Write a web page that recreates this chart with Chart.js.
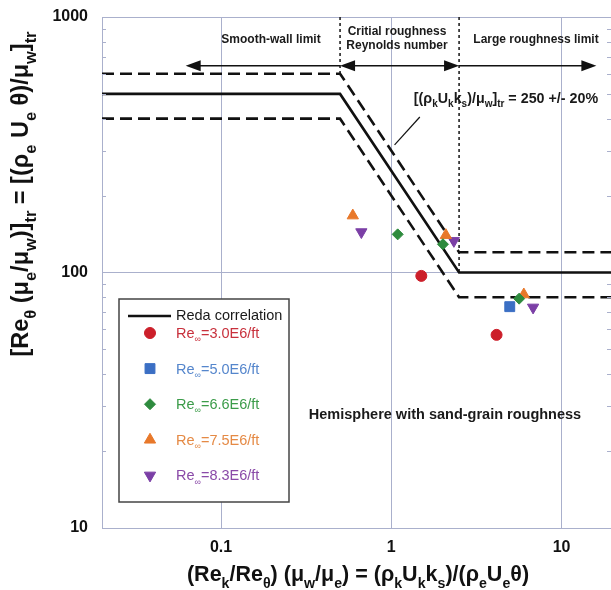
<!DOCTYPE html>
<html>
<head>
<meta charset="utf-8">
<script src="https://cdn.jsdelivr.net/npm/chart.js@4.4.1/dist/chart.umd.min.js"></script>
<style>
  html, body { margin: 0; padding: 0; background: #fff; overflow: hidden; }
  canvas { display: block; }
</style>
</head>
<body>
<canvas id="myChart" width="611" height="590"></canvas>
<script>
const FONT = "'Liberation Sans', Arial, sans-serif";
const GRID = "#aab0cc";

// axes
const xTicks = [0.1, 1, 10];
const yTicks = [10, 100, 1000];
const xRange = [0.02, 19.5];
const yRange = [10, 1000];

// Reda correlation and the +/- 20% band
const redaX = [0.02, 0.5, 2.5, 19.5];
const redaY = [500, 500, 100, 100];
const bandHighY = [600, 600, 120, 120];
const bandLowY = [400, 400, 80, 80];

// regime dividers
const dividerX = [0.5, 2.5];
const dividerBottom = [600, 100];

// measured transition points
const seriesLabels = ["=3.0E6/ft", "=5.0E6/ft", "=6.6E6/ft", "=7.5E6/ft", "=8.3E6/ft"];
const re30X = [1.5, 4.15];
const re30Y = [97, 57];
const re50X = [4.96];
const re50Y = [73.5];
const re66X = [1.09, 2.01, 5.63];
const re66Y = [141, 129, 79];
const re75X = [0.594, 2.09, 6.0];
const re75Y = [167, 140, 82];
const re83X = [0.667, 2.33, 6.8];
const re83Y = [144, 133, 73];

// annotation anchors (data coords)
const arrowLevel = 645;
const arrowSpans = [[0.062, 0.5, "start"], [0.5, 2.5, "both"], [2.5, 16, "end"]];
const leader = [[1.47, 406], [1.045, 316]];

const toXY = (xs, ys) => xs.map((x, i) => ({ x: x, y: ys[i] }));

const markerStyles = [
  { color: "#cc1f2a", text: "#c8303c", style: "circle", radius: 5.5, rotation: 0 },
  { color: "#3b6fc4", text: "#5586cc", style: "rect", radius: 7, rotation: 0 },
  { color: "#2e8b3e", text: "#3c9c4a", style: "rectRot", radius: 5.5, rotation: 0 },
  { color: "#e8782a", text: "#e58a45", style: "triangle", radius: 6.5, rotation: 0 },
  { color: "#7b3fa6", text: "#8a4aa8", style: "triangle", radius: 6.5, rotation: 180 },
];
const seriesData = [
  toXY(re30X, re30Y), toXY(re50X, re50Y), toXY(re66X, re66Y), toXY(re75X, re75Y), toXY(re83X, re83Y)
];

function lineSet(ys, dash) {
  return {
    type: "scatter", data: toXY(redaX, ys), showLine: true, borderColor: "#111",
    borderWidth: 2.6, borderDash: dash, pointRadius: 0, order: 2
  };
}

const datasets = [
  lineSet(redaY, []),
  lineSet(bandHighY, [12, 6]),
  lineSet(bandLowY, [12, 6]),
];
dividerX.forEach((x, i) => {
  datasets.push({
    type: "scatter", data: [{ x: x, y: yRange[1] }, { x: x, y: dividerBottom[i] }], showLine: true,
    borderColor: "#222", borderWidth: 1.6, borderDash: [3, 3], pointRadius: 0, order: 3
  });
});
seriesData.forEach((d, i) => {
  const m = markerStyles[i];
  datasets.push({
    type: "scatter", data: d, pointStyle: m.style, pointRadius: m.radius, pointRotation: m.rotation,
    backgroundColor: m.color, borderColor: m.color, borderWidth: 1, order: 0
  });
});

// text with subscripts: segs = [[text, isSub], ...]
function drawRich(ctx, segs, x, y, size, weight, color, align, subRatio) {
  const subSize = size * (subRatio || 0.62);
  let w = 0;
  segs.forEach(s => {
    ctx.font = weight + " " + (s[1] ? subSize : size) + "px " + FONT;
    w += ctx.measureText(s[0]).width;
  });
  let cx = align === "center" ? x - w / 2 : (align === "right" ? x - w : x);
  ctx.fillStyle = color;
  ctx.textBaseline = "middle";
  ctx.textAlign = "left";
  segs.forEach(s => {
    ctx.font = weight + " " + (s[1] ? subSize : size) + "px " + FONT;
    ctx.fillText(s[0], cx, s[1] ? y + size * 0.4 : y);
    cx += ctx.measureText(s[0]).width;
  });
}

function arrowHead(ctx, x, y, dir) {
  ctx.beginPath();
  ctx.moveTo(x, y);
  ctx.lineTo(x - dir * 15, y - 5.5);
  ctx.lineTo(x - dir * 15, y + 5.5);
  ctx.closePath();
  ctx.fill();
}

const decorations = {
  id: "decorations",
  afterDraw(chart) {
    const ctx = chart.ctx;
    const xs = chart.scales.x, ys = chart.scales.y;
    const area = chart.chartArea;
    ctx.save();

    // minor ticks on both sides
    ctx.strokeStyle = GRID;
    ctx.lineWidth = 1;
    [10, 100].forEach(dec => {
      for (let k = 2; k <= 9; k++) {
        const py = Math.round(ys.getPixelForValue(dec * k)) + 0.5;
        ctx.beginPath();
        ctx.moveTo(area.left, py); ctx.lineTo(area.left + 4, py);
        ctx.moveTo(area.right, py); ctx.lineTo(area.right - 4, py);
        ctx.stroke();
      }
    });

    // regime arrows
    ctx.strokeStyle = "#111";
    ctx.fillStyle = "#111";
    ctx.lineWidth = 1.5;
    const ay = ys.getPixelForValue(arrowLevel);
    arrowSpans.forEach(a => {
      const x1 = xs.getPixelForValue(a[0]), x2 = xs.getPixelForValue(a[1]);
      ctx.beginPath();
      ctx.moveTo(x1 + (a[2] !== "end" ? 10 : 0), ay);
      ctx.lineTo(x2 - (a[2] !== "start" ? 10 : 0), ay);
      ctx.stroke();
      if (a[2] !== "end") arrowHead(ctx, x1, ay, -1);
      if (a[2] !== "start") arrowHead(ctx, x2, ay, 1);
    });

    // leader line
    ctx.lineWidth = 1.2;
    ctx.beginPath();
    ctx.moveTo(xs.getPixelForValue(leader[0][0]), ys.getPixelForValue(leader[0][1]));
    ctx.lineTo(xs.getPixelForValue(leader[1][0]), ys.getPixelForValue(leader[1][1]));
    ctx.stroke();

    // regime labels
    const L = area.left, T = area.top;
    drawRich(ctx, [["Smooth-wall limit"]], L + 169, T + 23, 12, "bold", "#1a1a1a", "center");
    drawRich(ctx, [["Critial roughness"]], L + 295, T + 15, 12, "bold", "#1a1a1a", "center");
    drawRich(ctx, [["Reynolds number"]], L + 295, T + 29, 12, "bold", "#1a1a1a", "center");
    drawRich(ctx, [["Large roughness limit"]], L + 434, T + 23, 12, "bold", "#1a1a1a", "center");
    drawRich(ctx, [["[(\u03c1", 0], ["k", 1], ["U", 0], ["k", 1], ["k", 0], ["s", 1], [")/\u03bc", 0], ["w", 1], ["]", 0], ["tr", 1], [" = 250 +/- 20%", 0]],
      L + 404, T + 82, 14.3, "bold", "#1a1a1a", "center", 0.7);
    drawRich(ctx, [["Hemisphere with sand-grain roughness"]], L + 343, T + 398, 14.5, "bold", "#1a1a1a", "center");

    // legend
    const bx = L + 17, by = T + 282, bw = 170, bh = 203;
    ctx.fillStyle = "#fff";
    ctx.fillRect(bx, by, bw, bh);
    ctx.strokeStyle = "#444";
    ctx.lineWidth = 1.5;
    ctx.strokeRect(bx, by, bw, bh);
    ctx.strokeStyle = "#111";
    ctx.lineWidth = 2.6;
    ctx.beginPath();
    ctx.moveTo(bx + 9, by + 17); ctx.lineTo(bx + 52, by + 17);
    ctx.stroke();
    drawRich(ctx, [["Reda correlation"]], bx + 57, by + 17, 14.5, "normal", "#1a1a1a", "left");
    markerStyles.forEach((m, i) => {
      const yy = by + 34 + i * 35.6;
      ctx.fillStyle = m.color;
      ctx.strokeStyle = m.color;
      ctx.lineWidth = 1;
      Chart.helpers.drawPoint(ctx, { pointStyle: m.style, radius: m.radius, rotation: m.rotation, borderWidth: 1 }, bx + 31, yy);
      drawRich(ctx, [["Re", 0], ["\u221e", 1], [seriesLabels[i], 0]], bx + 57, yy + 1, 14.5, "normal", m.text, "left");
    });

    // axis titles
    drawRich(ctx, [["(Re", 0], ["k", 1], ["/Re", 0], ["\u03b8", 1], [") (\u03bc", 0], ["w", 1], ["/\u03bc", 0], ["e", 1],
      [") = (\u03c1", 0], ["k", 1], ["U", 0], ["k", 1], ["k", 0], ["s", 1], [")/(\u03c1", 0], ["e", 1], ["U", 0], ["e", 1], ["\u03b8)", 0]],
      358, 575, 21.5, "bold", "#111", "center", 0.66);
    ctx.save();
    ctx.translate(22, 194);
    ctx.rotate(-Math.PI / 2);
    drawRich(ctx, [["[Re", 0], ["\u03b8", 1], [" (\u03bc", 0], ["e", 1], ["/\u03bc", 0], ["w", 1], [")]", 0], ["tr", 1],
      [" = [(\u03c1", 0], ["e", 1], [" U", 0], ["e", 1], [" \u03b8)/\u03bc", 0], ["w", 1], ["]", 0], ["tr", 1]],
      0, 0, 23.5, "bold", "#111", "center", 0.7);
    ctx.restore();

    ctx.restore();
  }
};

new Chart(document.getElementById("myChart"), {
  type: "scatter",
  data: { datasets: datasets },
  options: {
    responsive: false,
    animation: false,
    layout: { autoPadding: false, padding: { top: 17, left: 0, right: 0, bottom: 0 } },
    plugins: { legend: { display: false }, tooltip: { enabled: false } },
    scales: {
      x: {
        type: "logarithmic", min: xRange[0], max: xRange[1],
        afterBuildTicks: (s) => { s.ticks = xTicks.map(v => ({ value: v })); },
        afterFit: (s) => { s.height = 62; s.paddingLeft = 0; s.paddingRight = 0; },
        ticks: { callback: (v) => String(v), font: { family: FONT, size: 16, weight: "bold" }, color: "#111", padding: 10, maxRotation: 0 },
        grid: { color: GRID, drawTicks: false },
        border: { color: GRID }
      },
      y: {
        type: "logarithmic", min: yRange[0], max: yRange[1],
        afterBuildTicks: (s) => { s.ticks = yTicks.map(v => ({ value: v })); },
        afterFit: (s) => { s.width = 102; s.paddingTop = 0; s.paddingBottom = 0; },
        ticks: { callback: (v) => String(v), font: { family: FONT, size: 16, weight: "bold" }, color: "#111", padding: 14 },
        grid: { color: GRID, drawTicks: false },
        border: { color: GRID }
      }
    }
  },
  plugins: [decorations]
});
</script>
</body>
</html>
